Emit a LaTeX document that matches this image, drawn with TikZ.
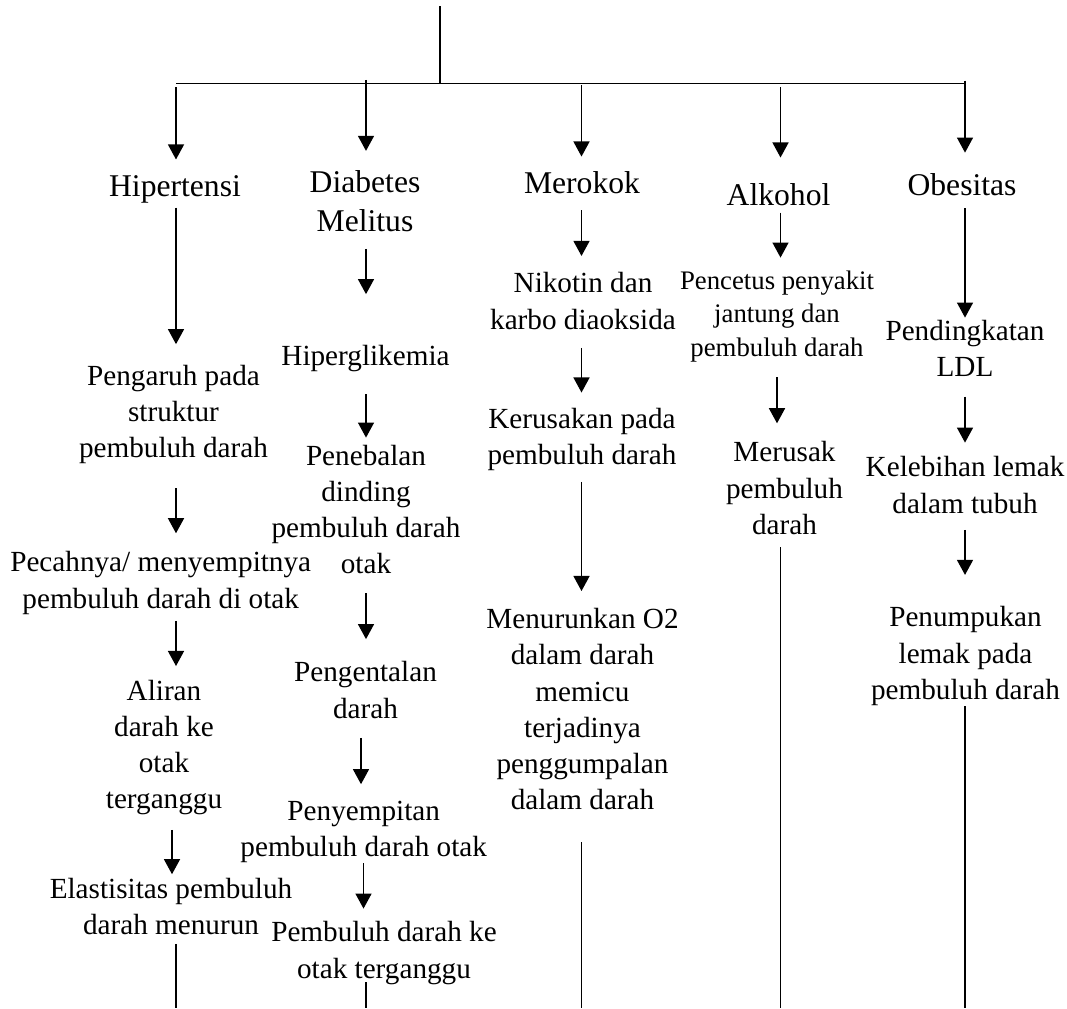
\documentclass[tikz,border=0pt]{standalone}
\usepackage{fontspec}
\setmainfont{Liberation Serif}
\usetikzlibrary{arrows.meta}

\begin{document}
\begin{tikzpicture}[
    x=0.411pt, y=-0.411pt,
    lbl/.style={anchor=base, align=center, inner sep=0pt,
                font=\fontsize{13}{16}\selectfont},
    txt/.style={anchor=base, align=center, inner sep=0pt,
                font=\fontsize{12}{14.9}\selectfont},
    sml/.style={anchor=base, align=center, inner sep=0pt,
                font=\fontsize{11}{13.8}\selectfont},
    arr/.style={-{Triangle[width=6.6pt, length=6.2pt]}, line width=0.55pt},
    ln/.style={line width=0.55pt},
  ]
    \useasboundingbox (0,0) rectangle (1067,1008);

    % columns and bus
    \coordinate (top) at (440,6);
    \coordinate (bus) at (440,83.3);
    \coordinate (bot) at (0,1008);
    \coordinate (c1) at (176,0);
    \coordinate (c1b) at (172,0);
    \coordinate (c2) at (366,0);
    \coordinate (c2b) at (361,0);
    \coordinate (c2c) at (363.5,0);
    \coordinate (c3) at (581.5,0);
    \coordinate (c4) at (780.5,0);
    \coordinate (c4b) at (777,0);
    \coordinate (c5) at (965,0);

    % risk factors (placed at the baseline of their last line)
    \node[lbl] (hip) at (175,196.7) {Hipertensi};
    \node[lbl] (dia) at (365,231.7) {Diabetes\\Melitus};
    \node[lbl] (mer) at (582,193.3) {Merokok};
    \node[lbl] (alk) at (778.5,205) {Alkohol};
    \node[lbl] (obe) at (962,195) {Obesitas};

    % hipertensi
    \node[txt] (peng) at (173.5,457.6) {Pengaruh pada\\struktur\\pembuluh darah};
    \node[txt] (pecah) at (160.7,608) {Pecahnya/ menyempitnya\\pembuluh darah di otak};
    \node[txt] (aliran) at (164,808.9) {Aliran\\darah ke\\otak\\terganggu};
    \node[txt] (elast) at (171,934.6) {Elastisitas pembuluh\\darah menurun};

    % diabetes
    \node[txt] (hiper) at (365.5,365) {Hiperglikemia};
    \node[txt] (peneb) at (366,573.9) {Penebalan\\dinding\\pembuluh darah\\otak};
    \node[txt] (pengen) at (365.5,718) {Pengentalan\\darah};
    \node[txt] (penyem) at (363.7,856.3) {Penyempitan\\pembuluh darah otak};
    \node[txt] (pembk) at (384,978) {Pembuluh darah ke\\otak terganggu};

    % merokok
    \node[txt] (niko) at (583,329) {Nikotin dan\\karbo diaoksida};
    \node[txt] (kerus) at (582,464.6) {Kerusakan pada\\pembuluh darah};
    \node[txt] (menur) at (582.5,809.8)
      {Menurunkan O2\\dalam darah\\memicu\\terjadinya\\penggumpalan\\dalam darah};

    % alkohol
    \node[sml] (penc) at (777,356.2) {Pencetus penyakit\\jantung dan\\pembuluh darah};
    \node[txt] (merus) at (784.5,534.3) {Merusak\\pembuluh\\darah};

    % obesitas
    \node[txt] (pend) at (965,376.3) {Pendingkatan\\LDL};
    \node[txt] (keleb) at (965,513) {Kelebihan lemak\\dalam tubuh};
    \node[txt] (penum) at (965.5,699.3) {Penumpukan\\lemak pada\\pembuluh darah};

    % trunk
    \draw[ln] (top) -- (bus);
    \draw[ln] (bus -| c1) -- (bus -| c5);
    \draw[arr, shorten <=1.6pt, shorten >=6.5pt] (bus -| c1) -- (hip.north -| c1);
    \draw[arr, shorten <=-1.4pt, shorten >=8pt] (bus -| c2) -- (dia.north -| c2);
    \draw[arr, shorten <=0.7pt, shorten >=5.9pt] (bus -| c3) -- (mer.north -| c3);
    \draw[arr, shorten <=1.6pt, shorten >=10.3pt] (bus -| c4) -- (alk.north -| c4);
    \draw[arr, shorten <=-1.1pt, shorten >=8.2pt] (bus -| c5) -- (obe.north -| c5);

    % hipertensi chain
    \draw[arr, shorten <=1.5pt, shorten >=8.3pt] (hip.south -| c1) -- (peng.north -| c1);
    \draw[arr, shorten <=9.9pt, shorten >=7.3pt] (peng.south -| c1) -- (pecah.north -| c1);
    \draw[arr, shorten <=2.5pt, shorten >=5.5pt] (pecah.south -| c1) -- (aliran.north -| c1);
    \draw[arr, shorten <=5.8pt, shorten >=1.4pt] (aliran.south -| c1b) -- (elast.north -| c1b);
    \draw[ln, shorten <=3.5pt] (elast.south -| c1) -- (bot -| c1);

    % diabetes chain
    \draw[arr, shorten <=6.7pt, shorten >=20.6pt] (dia.south -| c2) -- (hiper.north -| c2);
    \draw[arr, shorten <=9.2pt, shorten >=2.8pt] (hiper.south -| c2) -- (peneb.north -| c2);
    \draw[arr, shorten <=7.7pt, shorten >=9pt] (peneb.south -| c2) -- (pengen.north -| c2);
    \draw[arr, shorten <=7.8pt, shorten >=6.6pt] (pengen.south -| c2b) -- (penyem.north -| c2b);
    \draw[arr, shorten >=5.1pt] (penyem.south -| c2c) -- (pembk.north -| c2c);
    \draw[ln, shorten <=-1pt] (pembk.south -| c2) -- (bot -| c2);

    % merokok chain
    \draw[arr, shorten <=6.7pt, shorten >=6.6pt] (mer.south -| c3) -- (niko.north -| c3);
    \draw[arr, shorten <=7.4pt, shorten >=6.2pt] (niko.south -| c3) -- (kerus.north -| c3);
    \draw[arr, shorten <=4.3pt, shorten >=6.9pt] (kerus.south -| c3) -- (menur.north -| c3);
    \draw[ln, shorten <=13.1pt] (menur.south -| c3) -- (bot -| c3);

    % alkohol chain
    \draw[arr, shorten <=2.8pt, shorten >=5.1pt] (alk.south -| c4) -- (penc.north -| c4);
    \draw[arr, shorten <=6.1pt, shorten >=7.3pt] (penc.south -| c4b) -- (merus.north -| c4b);
    \draw[ln, shorten <=4.9pt] (merus.south -| c4) -- (bot -| c4);

    % obesitas chain
    \draw[arr, shorten <=5.1pt, shorten >=0.7pt] (obe.south -| c5) -- (pend.north -| c5);
    \draw[arr, shorten <=8.1pt, shorten >=5.5pt] (pend.south -| c5) -- (keleb.north -| c5);
    \draw[arr, shorten <=6.6pt, shorten >=12.8pt] (keleb.south -| c5) -- (penum.north -| c5);
    \draw[ln] (penum.south -| c5) -- (bot -| c5);
\end{tikzpicture}
\end{document}
